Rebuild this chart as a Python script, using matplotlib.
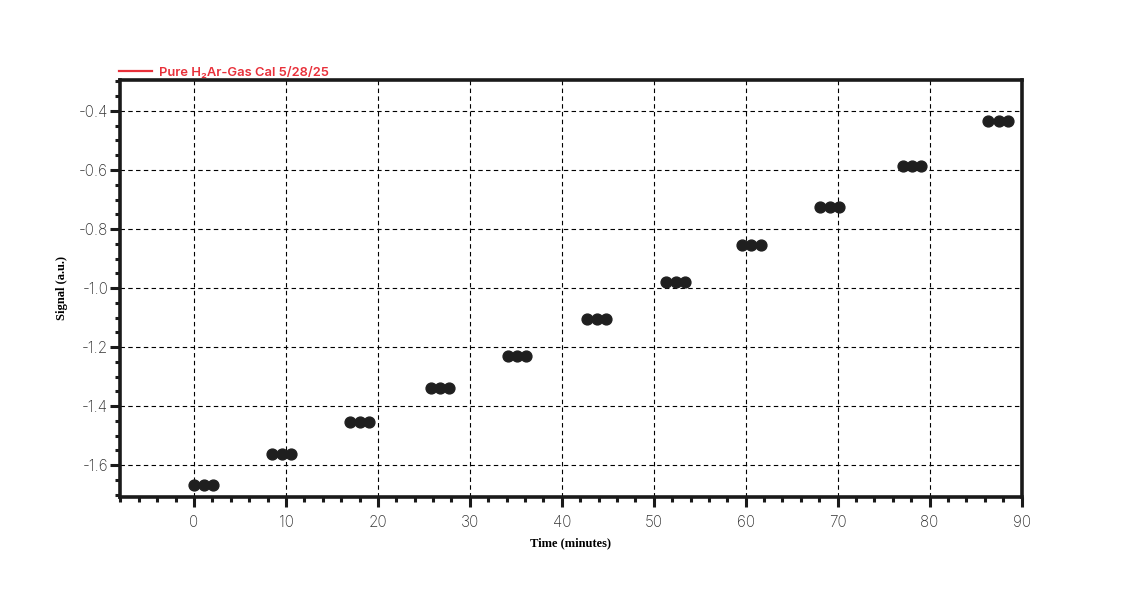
import matplotlib
matplotlib.use("Agg")
import matplotlib.pyplot as plt
from matplotlib.ticker import MultipleLocator, FormatStrFormatter

plt.rcParams['axes.unicode_minus'] = False

# Data: time (minutes) and signal (a.u.), three readings per calibration step
time_min = [0.0, 1.05, 2.1,
            8.5, 9.6, 10.6,
            17.0, 18.0, 19.0,
            25.75, 26.7, 27.7,
            34.1, 35.1, 36.1,
            42.7, 43.8, 44.8,
            51.3, 52.4, 53.4,
            59.6, 60.6, 61.7,
            68.1, 69.2, 70.2,
            77.1, 78.1, 79.1,
            86.4, 87.5, 88.5]
signal = [-1.669, -1.669, -1.669,
          -1.562, -1.562, -1.562,
          -1.453, -1.453, -1.453,
          -1.339, -1.339, -1.339,
          -1.229, -1.229, -1.229,
          -1.104, -1.104, -1.104,
          -0.979, -0.979, -0.979,
          -0.854, -0.854, -0.854,
          -0.725, -0.725, -0.725,
          -0.586, -0.586, -0.586,
          -0.434, -0.434, -0.434]
series_label = "Pure H\u2082Ar-Gas Cal 5/28/25"
x_ticks = [0, 10, 20, 30, 40, 50, 60, 70, 80, 90]
y_ticks = [-1.6, -1.4, -1.2, -1.0, -0.8, -0.6, -0.4]

fig = plt.figure(figsize=(11.34, 5.94), dpi=100)
ax = fig.add_axes([120/1134, 97/594, 902/1134, 417/594])

ax.plot(time_min, signal, linestyle='none', marker='o', markersize=7.8,
        color='#1f1f1f', zorder=3)
# legend handle (red line)
ax.plot([], [], color='#e8303a', lw=1.6, label=series_label)

ax.set_xlim(-8.05, 90.05)
ax.set_ylim(-1.708, -0.295)
ax.set_xticks(x_ticks)
ax.set_yticks(y_ticks)
ax.xaxis.set_minor_locator(MultipleLocator(2))
ax.yaxis.set_minor_locator(MultipleLocator(0.05))
ax.yaxis.set_major_formatter(FormatStrFormatter('%.1f'))

for s in ax.spines.values():
    s.set_linewidth(2.6)
    s.set_color('#1a1a1a')

ax.tick_params(axis='both', which='major', direction='out', length=7,
               width=2.2, color='#1a1a1a', labelsize=11, labelcolor='#333333')
ax.tick_params(axis='both', which='minor', direction='out', length=3.8,
               width=2.2, color='#1a1a1a')
ax.tick_params(axis='x', which='major', pad=6)
ax.tick_params(axis='y', which='major', pad=1.5)
for lab in ax.get_xticklabels() + ax.get_yticklabels():
    lab.set_fontfamily('Inter')
    lab.set_fontweight('light')

ax.grid(True, which='major', color='black', linestyle=(0, (4, 3)), linewidth=0.8)
ax.set_axisbelow(True)

ax.set_xlabel('Time (minutes)', family='Liberation Serif', fontweight='bold',
              fontsize=9, labelpad=5)
ax.set_ylabel('Signal (a.u.)', family='Liberation Serif', fontweight='bold',
              fontsize=9, labelpad=8)

leg = ax.legend(loc='lower left', bbox_to_anchor=(-0.008, 0.988), frameon=False,
                handlelength=2.5, handletextpad=0.6, borderaxespad=0.1,
                prop={'family': 'Inter', 'weight': 'semibold', 'size': 9.3})
for t in leg.get_texts():
    t.set_color('#e8303a')

fig.savefig('out.png', dpi=100)
